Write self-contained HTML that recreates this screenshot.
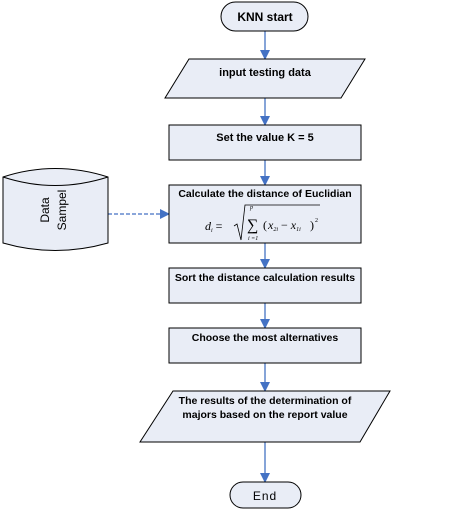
<!DOCTYPE html>
<html><head><style>body{margin:0;background:#fff}</style></head><body>
<svg width="471" height="514" xmlns="http://www.w3.org/2000/svg" font-family="Liberation Sans, sans-serif">
<defs><marker id="a" markerWidth="10" markerHeight="10" refX="9" refY="5" orient="auto" markerUnits="userSpaceOnUse"><path d="M0,0 L10,5 L0,10 z" fill="#4472c4"/></marker></defs>
<g stroke="#4472c4" stroke-width="1.3" fill="none" marker-end="url(#a)">
<line x1="265" y1="31" x2="265" y2="59"/>
<line x1="265" y1="98" x2="265" y2="125"/>
<line x1="265" y1="160" x2="265" y2="185"/>
<line x1="265" y1="243" x2="265" y2="268"/>
<line x1="265" y1="303" x2="265" y2="328"/>
<line x1="265" y1="363" x2="265" y2="391"/>
<line x1="265" y1="442" x2="265" y2="482"/>
<line x1="108" y1="214" x2="169" y2="214" stroke-dasharray="4,2"/>
</g>
<g fill="#e9edf6" stroke="#000" stroke-width="1">
<rect x="221" y="2" width="87" height="29" rx="14.5"/>
<polygon points="189,59 365,59 341,98 165,98"/>
<rect x="169" y="125" width="192" height="35"/>
<rect x="169" y="185" width="192" height="58"/>
<rect x="169" y="268" width="192" height="35"/>
<rect x="169" y="328" width="192" height="35"/>
<polygon points="173,391 390,391 360,442 140,442"/>
<rect x="230" y="482" width="71" height="26" rx="13"/>
<path d="M3,177 Q55,160 108,177 L108,243 Q55,258 3,243 Z"/>
<path d="M3,177 Q55,194 108,177" fill="none"/>
</g>
<g font-weight="bold" font-size="11" text-anchor="middle" fill="#000">
<text x="265" y="21" font-size="12">KNN start</text>
<text x="265" y="76">input testing data</text>
<text x="265" y="141">Set the value K = 5</text>
<text x="265" y="197" font-size="10.5">Calculate the distance of Euclidian</text>
<text x="265" y="281" font-size="10.5">Sort the distance calculation results</text>
<text x="265" y="341" font-size="10.5">Choose the most alternatives</text>
<text x="265" y="404" font-size="10.5">The results of the determination of</text>
<text x="265" y="418" font-size="10.5">majors based on the report value</text>
</g>
<text x="265" y="500" font-size="12" text-anchor="middle" letter-spacing="1">End</text>
<g font-size="12" text-anchor="middle">
<text transform="translate(49,210) rotate(-90)">Data</text>
<text transform="translate(66,210) rotate(-90)">Sampel</text>
</g>
<g font-family="Liberation Serif, serif" font-style="italic" font-size="12">
<text x="205" y="230">d<tspan font-size="6" dy="2">i</tspan><tspan dy="-2" font-style="normal"> =</tspan></text>
<path d="M234,226 L237,224 L241,240 L245,205 L320,205" fill="none" stroke="#000" stroke-width="0.8"/>
<text x="247" y="230" font-style="normal" font-size="16">∑</text>
<text x="250" y="209" font-size="6">p</text>
<text x="248" y="240" font-size="6">i =1</text>
<text x="263" y="229" font-style="normal">(</text><text x="268" y="229">x<tspan font-size="6" dy="2">2i</tspan><tspan dy="-2" font-style="normal"> − </tspan>x<tspan font-size="6" dy="2">1i</tspan></text>
<text x="310" y="229" font-style="normal">)</text><text x="315" y="222" font-size="6" font-style="normal">2</text>
</g>
</svg>
</body></html>
